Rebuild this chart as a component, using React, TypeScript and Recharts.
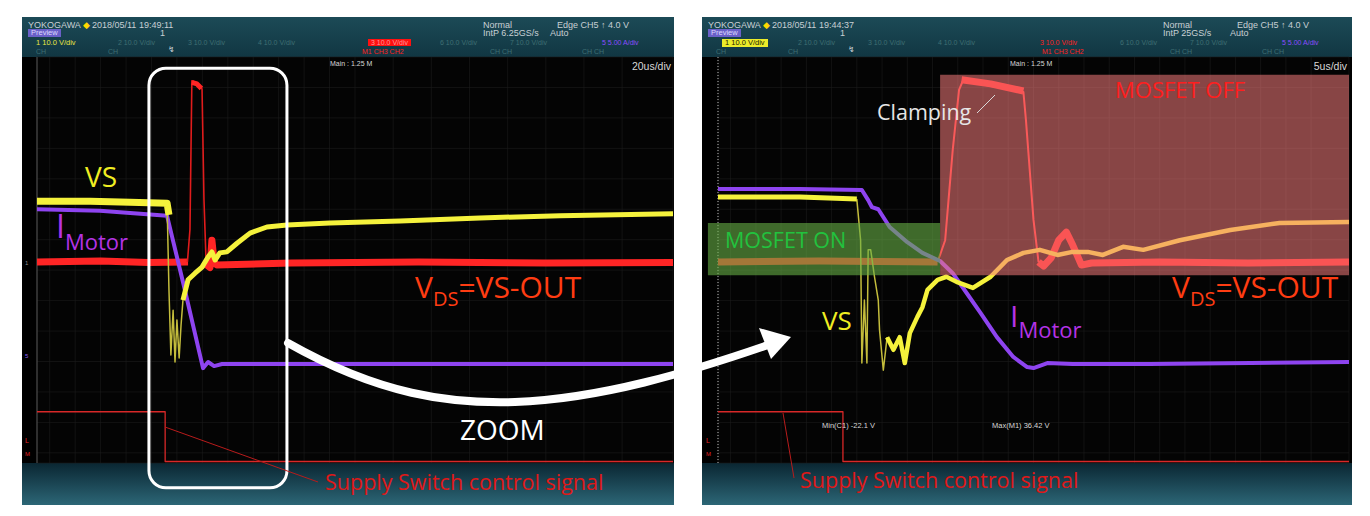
import { LineChart, Line, XAxis, YAxis, CartesianGrid, ReferenceArea, ReferenceLine } from 'recharts';

// all traces in scope units: t = time (µs), v = screen divisions (-4..4)
type P = { t: number; v: number };
const pts = (a: number[][]): P[] => a.map(([t, v]) => ({ t, v }));

// ---- left capture, 20us/div ----
const leftVs = pts([
  [0, 1.16], [16.7, 1.16], [29.2, 1.14], [40.9, 1.12], [41.5, 0.89],
]);
const leftVsRing = pts([
  [40.9, 1.12], [41.5, -0.59], [42.1, -1.87], [42.8, -0.99], [43.4, -2.01],
  [44.0, -1.18], [44.7, -1.93], [45.3, -1.28], [45.9, -0.79],
]);
const leftVsRecover = pts([
  [45.9, -0.79], [47.5, -0.39], [49.7, -0.26], [51.9, -0.14], [53.8, 0.06],
  [55.0, 0.16], [56.0, 0.0], [57.5, 0.14], [59.7, 0.16], [62.9, 0.33],
  [67.0, 0.53], [72.3, 0.65], [78.6, 0.69], [92.1, 0.73], [114.2, 0.77],
  [139.3, 0.83], [164.5, 0.87], [200, 0.91],
]);
const leftMotor = pts([
  [0, 1.0], [19.8, 0.97], [40.9, 0.87], [46.5, -0.59], [52.2, -2.13],
  [53.8, -2.01], [55.7, -2.09], [58.2, -2.05], [82.7, -2.05], [129.9, -2.05], [200, -2.05],
]);
const leftVdsPre = pts([[0, -0.04], [20, -0.02], [35, -0.05], [47.5, -0.04]]);
const leftVdsPulse = pts([
  [47.3, -0.04], [48.1, 0.6], [48.7, 3.53], [50.3, 3.49], [51.9, 3.37], [52.5, 1.2], [53.2, -0.09],
]);
const leftVdsTop = pts([[48.7, 3.5], [50.3, 3.47], [51.7, 3.38]]);
const leftVdsPost = pts([
  [53.2, -0.09], [54.4, -0.15], [55.0, 0.39], [55.7, -0.04], [56.6, -0.1],
  [80, -0.06], [120, -0.04], [160, -0.06], [200, -0.05],
]);
const leftSwitch = pts([[0, -2.99], [40.3, -2.99], [40.3, -3.97], [200, -3.97]]);

// ---- right capture, 5us/div ----
const rightVs = pts([[0, 1.24], [6.5, 1.24], [11.0, 1.2]]);
const rightVsRing = pts([
  [11.0, 1.2], [11.3, 0.39], [11.4, -2.03], [11.6, -0.79], [11.8, -2.03], [11.9, 0.2],
  [12.1, 0.2], [12.4, -0.33], [12.7, -0.79], [12.8, -1.38], [13.1, -2.17], [13.4, -1.52],
]);
const rightVsRecover = pts([
  [13.4, -1.52], [13.9, -1.77], [14.4, -1.52], [14.8, -2.03], [15.2, -1.44], [15.8, -1.12],
  [16.2, -0.93], [16.6, -0.59], [17.4, -0.39], [18.1, -0.33], [18.9, -0.43], [20.2, -0.55],
  [21.6, -0.33], [22.9, 0.0], [24.2, 0.14], [25.5, 0.2], [26.9, 0.1], [28.1, 0.16],
  [29.3, 0.16], [30.5, 0.1], [32.1, 0.26], [33.7, 0.2], [36.6, 0.39], [40.6, 0.59],
  [44.5, 0.73], [50, 0.75],
]);
const rightMotor = pts([
  [0, 1.4], [6.5, 1.4], [11.4, 1.38], [11.9, 1.18], [12.2, 1.04], [12.7, 1.0], [13.6, 0.65],
  [15.0, 0.35], [16.2, 0.14], [17.6, -0.02], [18.6, -0.26], [19.7, -0.65], [20.8, -1.04],
  [22.1, -1.52], [23.4, -1.91], [24.5, -2.11], [25.0, -2.13], [26.1, -2.03], [28.1, -2.05],
  [34.2, -2.05], [42.2, -2.03], [50, -2.01],
]);
const rightVdsPre = pts([[0, -0.04], [8, -0.02], [17.4, -0.04]]);
const rightVdsPulse = pts([
  [17.4, -0.04], [18.0, 0.39], [18.6, 2.17], [19.1, 3.35], [19.4, 3.53],
  [24.2, 3.31], [24.4, 2.76], [25.0, 0.79], [25.4, -0.04],
]);
const rightVdsTop = pts([[19.3, 3.55], [21.6, 3.47], [24.2, 3.33]]);
const rightVdsPost = pts([
  [25.4, -0.04], [25.8, -0.12], [26.4, 0.04], [27.0, 0.39], [27.6, 0.55], [28.1, 0.3],
  [28.8, -0.1], [29.6, -0.06], [35, -0.04], [42, -0.06], [50, -0.04],
]);
const rightSwitch = pts([[0, -2.99], [9.9, -2.99], [9.9, -3.97], [50, -3.97]]);

// grid: 10 x 8 divisions, 5 sub-divisions each
const Y_TICKS = Array.from({ length: 41 }, (_, i) => -4 + i * 0.2);
const LEFT_X_TICKS = Array.from({ length: 51 }, (_, i) => i * 4);
const RIGHT_X_TICKS = Array.from({ length: 51 }, (_, i) => i * 1);

const YELLOW = '#f5f23c';
const PURPLE = '#8e44f0';
const RED = '#ff2525';
const SWITCH = '#d82828';

const PANEL_BG =
  'linear-gradient(to bottom, #1c4a56 0px, #113642 40px, #000 40px, #000 446px, #0a2632 446px, #2c6676 488px)';

type Trace = { data: P[]; color: string; width: number };

function Tiny({ x, y, c = '#c8d0d4', s = 8, bg, children }: any) {
  return (
    <span
      style={{
        position: 'absolute', left: x, top: y - s * 0.6, fontSize: s, lineHeight: 1.1,
        color: c, background: bg, padding: bg ? '0 3px' : 0, whiteSpace: 'nowrap',
        fontFamily: '"Liberation Sans Narrow", "Liberation Sans", sans-serif',
      }}
    >
      {children}
    </span>
  );
}

function Header({ date, rate, left }: { date: string; rate: string; left: boolean }) {
  const dim = '#3f6f73';
  return (
    <>
      <Tiny x={6} y={9} s={9}>YOKOGAWA <span style={{ color: '#ffd800' }}>◆</span></Tiny>
      <Tiny x={70} y={9} s={9}>{date}</Tiny>
      <Tiny x={461} y={9} s={9}>Normal</Tiny>
      <Tiny x={535} y={9} s={9}>Edge CH5 ↑ 4.0 V</Tiny>
      <Tiny x={6} y={16} s={7.5} c="#dcd8ff" bg="#6a60c8">Preview</Tiny>
      <Tiny x={138} y={17} s={9}>1</Tiny>
      <Tiny x={461} y={17} s={9}>{rate}</Tiny>
      <Tiny x={528} y={17} s={9}>Auto</Tiny>
      {left ? (
        <Tiny x={14} y={26} s={7.5} c="#e6e642">1 10.0 V/div</Tiny>
      ) : (
        <Tiny x={20} y={26} s={7.5} c="#1a1a00" bg="#ecec2a">1 10.0 V/div</Tiny>
      )}
      <Tiny x={96} y={26} s={7} c={dim}>2 10.0 V/div</Tiny>
      <Tiny x={166} y={26} s={7} c={dim}>3 10.0 V/div</Tiny>
      <Tiny x={236} y={26} s={7} c={dim}>4 10.0 V/div</Tiny>
      {left ? (
        <Tiny x={346} y={26} s={7} c="#ff9a9a" bg="#ff1010">3 10.0 V/div</Tiny>
      ) : (
        <Tiny x={338} y={26} s={7} c="#ff2020">3 10.0 V/div</Tiny>
      )}
      <Tiny x={418} y={26} s={7} c={dim}>6 10.0 V/div</Tiny>
      <Tiny x={488} y={26} s={7} c={dim}>7 10.0 V/div</Tiny>
      <Tiny x={580} y={26} s={7} c="#8a4cff">5 5.00 A/div</Tiny>
      <Tiny x={14} y={35} s={7} c={dim}>CH</Tiny>
      <Tiny x={86} y={35} s={7} c={dim}>CH</Tiny>
      <Tiny x={146} y={34} s={8} c="#c8d0d4">↯</Tiny>
      <Tiny x={340} y={35} s={7} c="#ff2020">M1 CH3 CH2</Tiny>
      <Tiny x={468} y={35} s={7} c={dim}>CH CH</Tiny>
      <Tiny x={560} y={35} s={7} c={dim}>CH CH</Tiny>
    </>
  );
}

function ScopePanel({
  x, width, ml, mr, xMax, xTicks, traces, date, rate, left, edge, children,
}: any) {
  return (
    <div style={{ position: 'absolute', left: x, top: 17, width, height: 488, background: PANEL_BG }}>
      <LineChart width={width} height={488} margin={{ top: 40, right: mr, bottom: 42, left: ml }}>
        <CartesianGrid fill="#040404" stroke="#1d1d1d" strokeWidth={0.6} />
        <XAxis type="number" dataKey="t" domain={[0, xMax]} ticks={xTicks} hide allowDataOverflow />
        <YAxis type="number" domain={[-4, 4]} ticks={Y_TICKS} hide allowDataOverflow />
        <ReferenceLine x={0} stroke={edge} strokeDasharray={left ? undefined : '1 2'} strokeWidth={1} />
        {traces.map((tr: Trace, i: number) => (
          <Line
            key={i}
            data={tr.data}
            dataKey="v"
            type="linear"
            stroke={tr.color}
            strokeWidth={tr.width}
            strokeLinejoin="round"
            dot={false}
            activeDot={false}
            isAnimationActive={false}
          />
        ))}
        {children}
      </LineChart>
      <Header date={date} rate={rate} left={left} />
    </div>
  );
}

const leftTraces: Trace[] = [
  { data: leftSwitch, color: SWITCH, width: 1.3 },
  { data: leftVdsPre, color: RED, width: 7 },
  { data: leftVdsPost, color: RED, width: 7 },
  { data: leftVdsPulse, color: '#e01c1c', width: 1.6 },
  { data: leftVdsTop, color: RED, width: 5 },
  { data: leftMotor, color: PURPLE, width: 4 },
  { data: leftVsRing, color: '#c4bd3c', width: 1.5 },
  { data: leftVs, color: YELLOW, width: 7 },
  { data: leftVsRecover, color: YELLOW, width: 5 },
];

const rightTraces: Trace[] = [
  { data: rightSwitch, color: SWITCH, width: 1.3 },
  { data: rightVdsPre, color: RED, width: 7 },
  { data: rightVdsPost, color: RED, width: 7 },
  { data: rightVdsPulse, color: '#ff3030', width: 2 },
  { data: rightVdsTop, color: RED, width: 7 },
  { data: rightMotor, color: PURPLE, width: 4 },
  { data: rightVsRing, color: '#c4bd3c', width: 1.5 },
  { data: rightVs, color: YELLOW, width: 5 },
  { data: rightVsRecover, color: YELLOW, width: 4.5 },
];

const roundBox = (p: any) => (
  <rect x={p.x} y={p.y} width={p.width} height={p.height} rx={17} fill="none" stroke="#fff" strokeWidth={3} />
);

const LABEL_FONT = '"Open Sans", sans-serif';

export default function App() {
  return (
    <div style={{ position: 'relative', width: 1370, height: 516, margin: -8, background: '#fff', overflow: 'hidden' }}>
      <div style={{ position: 'absolute', left: 5, top: 5, width: 1359, height: 520, border: '2px solid #8a8a8a' }} />

      <ScopePanel
        x={22} width={652} ml={15} mr={1} xMax={200} xTicks={LEFT_X_TICKS}
        traces={leftTraces} date="2018/05/11 19:49:11" rate="IntP 6.25GS/s" left edge="#555"
      >
        <ReferenceArea x1={35.2} x2={78.6} y1={-4.49} y2={3.78} ifOverflow="visible" shape={roundBox} zIndex={450} />
      </ScopePanel>

      <ScopePanel
        x={702} width={650} ml={16} mr={3} xMax={50} xTicks={RIGHT_X_TICKS}
        traces={rightTraces} date="2018/05/11 19:44:37" rate="IntP 25GS/s" left={false} edge="#bbb"
      >
        <ReferenceArea x1={17.6} x2={50} y1={-0.3} y2={3.65} fill="#f57c7c" fillOpacity={0.55} ifOverflow="visible" zIndex={450} />
        <ReferenceArea x1={-0.8} x2={17.6} y1={-0.3} y2={0.73} fill="#67af46" fillOpacity={0.6} ifOverflow="visible" zIndex={450} />
      </ScopePanel>

      <svg width={1370} height={516} style={{ position: 'absolute', left: 0, top: 0, pointerEvents: 'none' }}>
        {/* zoom arrow */}
        <path d="M288 343 C 380 395, 450 404, 515 402 C 600 399, 690 372, 768 345" fill="none" stroke="#fff" strokeWidth={8} strokeLinecap="round" />
        <polygon points="791,337 759,328 771,359" fill="#fff" />
        {/* pointer lines */}
        <line x1={165} y1={427} x2={318} y2={482} stroke="#b81c1c" strokeWidth={1} />
        <line x1={783} y1={413} x2={794} y2={478} stroke="#b81c1c" strokeWidth={1} />
        <line x1={977} y1={113} x2={995} y2={95} stroke="#d8d8d8" strokeWidth={1} />

        <g fontFamily={LABEL_FONT}>
          <text x={85} y={187} fontSize={28} fill="#f0ee22">VS</text>
          <text x={56} y={238} fontSize={32} fill="#b433e6">I<tspan fontSize={22} dy={12}>Motor</tspan></text>
          <text x={415} y={298} fontSize={30} fill="#ff3c12">V<tspan fontSize={20} dy={8}>DS</tspan><tspan dy={-8}>=VS-OUT</tspan></text>
          <text x={460} y={440} fontSize={28} fill="#fff">ZOOM</text>
          <text x={325} y={490} fontSize={21.5} fill="#e01818">Supply Switch control signal</text>

          <text x={1115} y={98} fontSize={22} fill="#ff1e1e">MOSFET OFF</text>
          <text x={725} y={248} fontSize={21.5} fill="#22c23e">MOSFET ON</text>
          <text x={877} y={120} fontSize={21.5} fill="#e6e6e6">Clamping</text>
          <text x={822} y={330} fontSize={26} fill="#f0ee22">VS</text>
          <text x={1010} y={327} fontSize={30} fill="#b433e6">I<tspan fontSize={22} dy={11}>Motor</tspan></text>
          <text x={1172} y={298} fontSize={30} fill="#ff3c12">V<tspan fontSize={20} dy={8}>DS</tspan><tspan dy={-8}>=VS-OUT</tspan></text>
          <text x={800} y={488} fontSize={21.5} fill="#e01818">Supply Switch control signal</text>
        </g>

        <g fontFamily='"Liberation Sans Narrow", "Liberation Sans", sans-serif' fill="#d8d8d8">
          <text x={330} y={66} fontSize={7}>Main : 1.25 M</text>
          <text x={671} y={70} fontSize={10.5} textAnchor="end">20us/div</text>
          <text x={1010} y={66} fontSize={7}>Main : 1.25 M</text>
          <text x={1347} y={70} fontSize={10.5} textAnchor="end">5us/div</text>
          <text x={822} y={428} fontSize={7.5}>Min(C1)  -22.1 V</text>
          <text x={992} y={428} fontSize={7.5}>Max(M1)  36.42 V</text>
          <text x={25} y={265} fontSize={6} fill="#8a8a8a">1</text>
          <text x={25} y={358} fontSize={6} fill="#8a5cf0">5</text>
          <text x={25} y={443} fontSize={7} fill="#e02020">L</text>
          <text x={25} y={456} fontSize={6} fill="#e02020">M</text>
          <text x={706} y={443} fontSize={7} fill="#e02020">L</text>
          <text x={706} y={456} fontSize={6} fill="#e02020">M</text>
        </g>
      </svg>
    </div>
  );
}
